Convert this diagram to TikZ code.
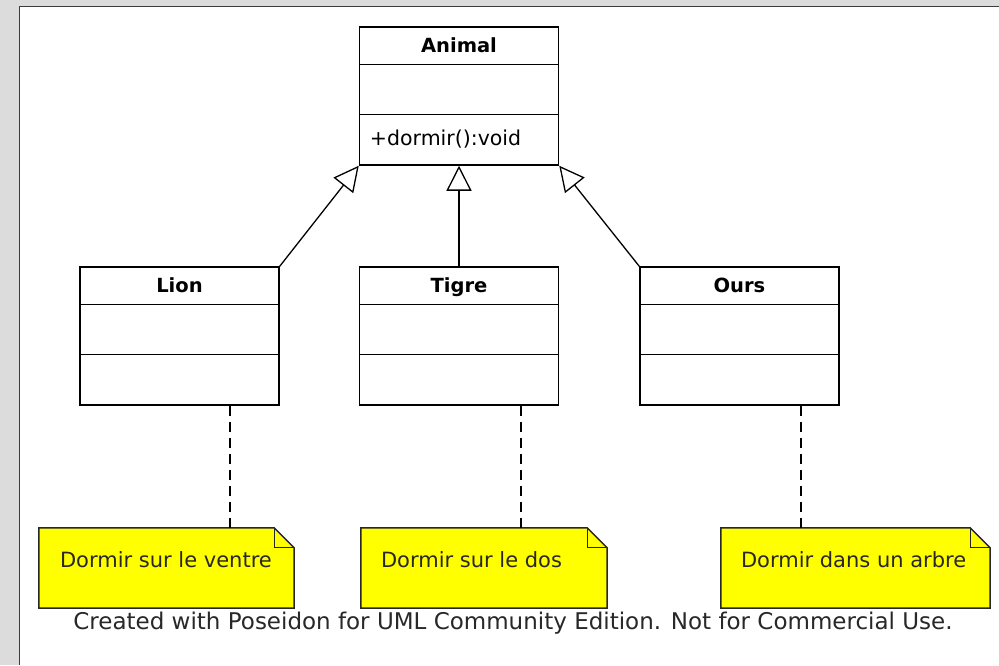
\documentclass[tikz,border=0pt]{standalone}
\usepackage{fontspec}
\setmainfont{DejaVu Sans}
\usetikzlibrary{arrows.meta}
\definecolor{bggray}{RGB}{220,220,220}
\definecolor{framegray}{RGB}{60,60,60}
\definecolor{notey}{RGB}{255,255,0}
\definecolor{txtgray}{RGB}{40,40,40}
\begin{document}
\begin{tikzpicture}[x=1pt,y=-1pt,
  classbox/.style={draw=black, line width=1.5pt, minimum width=199pt, minimum height=138pt, inner sep=0pt, fill=white},
  classname/.style={font=\fontsize{19.5}{22}\selectfont\bfseries, inner sep=0pt, anchor=base},
  member/.style={font=\fontsize{20.5}{22}\selectfont, inner sep=0pt, anchor=base west},
  noteframe/.style={draw=none, minimum height=80pt, inner sep=0pt},
  notetext/.style={font=\fontsize{21}{24}\selectfont, text=txtgray, inner sep=0pt, anchor=base west},
  sep/.style={draw=black, line width=1.5pt},
  inherit/.style={draw=black, line width=1.3pt, -{Triangle[open, length=25pt, width=25pt, line width=1.3pt]}},
  notelink/.style={draw=black, line width=1.3pt, dash pattern=on 10pt off 6pt},
  notepath/.style={draw=black!85, line width=1.5pt, fill=notey}
]
\useasboundingbox (0,0) rectangle (999,665);
\fill[bggray] (0,0) rectangle (999,665);
\fill[white] (19,6) rectangle (999,665);
\draw[framegray, line width=1.5pt] (19.5,665) -- (19.5,6.5) -- (999,6.5);

% classes
\node[classbox] (animal) at (459,96) {};
\node[classbox] (lion) at (179.5,336) {};
\node[classbox] (tigre) at (459,336) {};
\node[classbox] (ours) at (739.5,336) {};

\foreach \c in {animal,lion,tigre,ours}{
  \draw[sep] ([yshift=-38pt]\c.north west) -- ([yshift=-38pt]\c.north east);
  \draw[sep] ([yshift=-88pt]\c.north west) -- ([yshift=-88pt]\c.north east);
}

\node[classname] (animalname) at ([yshift=-26pt]animal.north) {Animal};
\node[classname] (lionname) at ([yshift=-26pt]lion.north) {Lion};
\node[classname] (tigrename) at ([yshift=-26pt]tigre.north) {Tigre};
\node[classname] (oursname) at ([yshift=-26pt]ours.north) {Ours};
\node[member] (dormir) at ([xshift=11pt,yshift=-119pt]animal.north west) {+dormir():void};

% generalisations
\draw[inherit] (lion.north east) -- (animal.south west);
\draw[inherit] (tigre.north) -- (animal.south);
\draw[inherit] (ours.north west) -- (animal.south east);

% notes
\node[noteframe, minimum width=255pt] (n1) at (166.5,568) {};
\node[noteframe, minimum width=246pt] (n2) at (484,568) {};
\node[noteframe, minimum width=269pt] (n3) at (855.5,568) {};

\foreach \n in {n1,n2,n3}{
  \draw[notepath] (\n.north west) -- ([xshift=-20pt]\n.north east) -- ([yshift=-20pt]\n.north east) -- (\n.south east) -- (\n.south west) -- cycle;
  \draw[draw=black!85, line width=1.3pt] ([xshift=-20pt]\n.north east) -- ([xshift=-20pt,yshift=-20pt]\n.north east) -- ([yshift=-20pt]\n.north east);
}

\node[notetext] (t1) at ([xshift=21pt,yshift=-40pt]n1.north west) {Dormir sur le ventre};
\node[notetext] (t2) at ([xshift=20pt,yshift=-40pt]n2.north west) {Dormir sur le dos};
\node[notetext] (t3) at ([xshift=20pt,yshift=-40pt]n3.north west) {Dormir dans un arbre};

% note links
\coordinate (c1) at (230,528);
\coordinate (c2) at (521,528);
\coordinate (c3) at (801,528);
\draw[notelink] (c1 |- lion.south) -- (c1);
\draw[notelink] (c2 |- tigre.south) -- (c2);
\draw[notelink] (c3 |- ours.south) -- (c3);

\node[font=\fontsize{23}{26}\selectfont, text=txtgray, inner sep=0pt, anchor=base] (credit) at (513,629) {Created with Poseidon for UML Community Edition. Not for Commercial Use.};
\end{tikzpicture}
\end{document}
